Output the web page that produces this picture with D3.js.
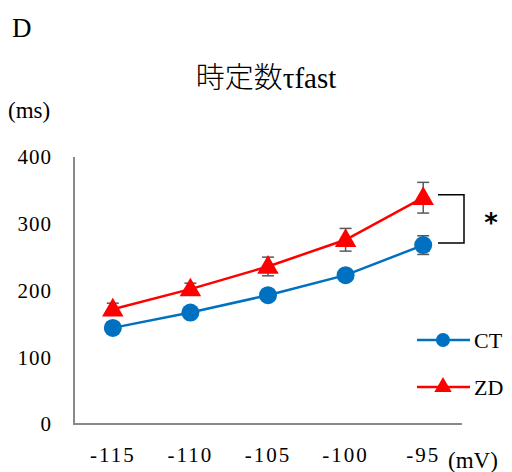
<!DOCTYPE html>
<html>
<head>
<meta charset="utf-8">
<script src="https://cdn.jsdelivr.net/npm/d3@7"></script>
<style>
  body { margin: 0; background: #fff; }
</style>
</head>
<body>
<div id="chart"></div>
<script>
const voltages = ['-115', '-110', '-105', '-100', '-95'];
const ctValues = [144, 167, 193, 223, 268];
const ctErrors = [6, 6, 6, 7, 14];
const zdValues = [172, 202, 236, 276, 339];
const zdErrors = [9, 9, 14, 17, 23];
const yTicks = [0, 100, 200, 300, 400];

const serif = "'Times New Roman', 'Liberation Serif', 'DejaVu Serif', serif";
const width = 512, height = 472;
const svg = d3.select('#chart').append('svg')
    .attr('width', width)
    .attr('height', height)
    .style('font-family', serif);

const x = d3.scalePoint()
    .domain(voltages)
    .range([74, 462])
    .padding(0.5);

const y = d3.scaleLinear()
    .domain([0, 400])
    .range([424, 157]);

// axes
svg.append('line')
    .attr('x1', 74).attr('x2', 74)
    .attr('y1', y(400)).attr('y2', y(0))
    .attr('stroke', '#898989').attr('stroke-width', 2);
svg.append('line')
    .attr('x1', 73).attr('x2', 462)
    .attr('y1', y(0)).attr('y2', y(0))
    .attr('stroke', '#898989').attr('stroke-width', 2);

svg.selectAll('.ytick')
    .data(yTicks)
    .enter()
    .append('text')
    .attr('x', 52)
    .attr('y', d => y(d))
    .attr('dy', '0.35em')
    .attr('text-anchor', 'end')
    .style('font-size', '21px')
    .style('letter-spacing', '1px')
    .text(d => d);

svg.selectAll('.xtick')
    .data(voltages)
    .enter()
    .append('text')
    .attr('x', d => x(d))
    .attr('y', 462)
    .attr('text-anchor', 'middle')
    .style('font-size', '21px')
    .style('letter-spacing', '2px')
    .text(d => d);

svg.append('text').attr('x', 448).attr('y', 468)
    .style('font-size', '23px').text('(mV)');
svg.append('text').attr('x', 8).attr('y', 118)
    .style('font-size', '23px').text('(ms)');
svg.append('text').attr('x', 12).attr('y', 37)
    .style('font-size', '27px').text('D');

const title = svg.append('text')
    .attr('x', 266).attr('y', 88)
    .attr('text-anchor', 'middle')
    .style('font-size', '29px');
title.append('tspan').style('font-family', '"Noto Sans CJK JP"').style('font-weight', '300').text('時定数');
title.append('tspan').text('τfast');

// series
const series = [
    { name: 'CT', values: ctValues, errors: ctErrors, color: '#0070C0', shape: 'circle' },
    { name: 'ZD', values: zdValues, errors: zdErrors, color: '#FF0000', shape: 'triangle' }
];

const line = d3.line()
    .x((d, i) => x(voltages[i]))
    .y(d => y(d));

const symbolFor = s => s.shape === 'circle'
    ? d3.symbol().type(d3.symbolCircle).size(Math.PI * 9 * 9)
    : d3.symbol().type(d3.symbolTriangle).size(200);

series.forEach(s => {
    // error bars
    const eb = svg.append('g').attr('stroke', '#595959').attr('stroke-width', 1.5);
    s.values.forEach((v, i) => {
        const cx = x(voltages[i]);
        const top = y(v + s.errors[i]), bot = y(v - s.errors[i]);
        eb.append('line').attr('x1', cx).attr('x2', cx).attr('y1', top).attr('y2', bot);
        eb.append('line').attr('x1', cx - 6).attr('x2', cx + 6).attr('y1', top).attr('y2', top);
        eb.append('line').attr('x1', cx - 6).attr('x2', cx + 6).attr('y1', bot).attr('y2', bot);
    });
});

series.forEach(s => {
    svg.append('path')
        .datum(s.values)
        .attr('d', line)
        .attr('fill', 'none')
        .attr('stroke', s.color)
        .attr('stroke-width', 2.5);

    svg.selectAll('.m-' + s.name)
        .data(s.values)
        .enter()
        .append('path')
        .attr('d', symbolFor(s))
        .attr('transform', (d, i) => `translate(${x(voltages[i])},${y(d) + (s.shape === 'triangle' ? 1 : 0)})`)
        .attr('fill', s.color);
});

// significance bracket
const last = voltages.length - 1;
const bTop = y(zdValues[last]) - 3, bBot = y(ctValues[last]) - 2;
svg.append('path')
    .attr('d', `M438,${bTop}H464V${bBot}H438`)
    .attr('fill', 'none')
    .attr('stroke', '#000')
    .attr('stroke-width', 1.5);
svg.append('text')
    .attr('x', 491).attr('y', 232)
    .attr('text-anchor', 'middle')
    .style('font-size', '26px')
    .style('font-family', '"DejaVu Sans", sans-serif')
    .style('font-weight', 'bold')
    .text('*');

// legend
const legendY = [340, 387];
series.forEach((s, i) => {
    const ly = legendY[i];
    svg.append('line')
        .attr('x1', 417).attr('x2', 470)
        .attr('y1', ly).attr('y2', ly)
        .attr('stroke', s.color).attr('stroke-width', 2.5);
    svg.append('path')
        .attr('d', s.shape === 'circle'
            ? d3.symbol().type(d3.symbolCircle).size(Math.PI * 7 * 7)()
            : d3.symbol().type(d3.symbolTriangle).size(130)())
        .attr('transform', `translate(443,${ly})`)
        .attr('fill', s.color);
    svg.append('text')
        .attr('x', 474).attr('y', ly)
        .attr('dy', '0.35em')
        .style('font-size', '22px')
        .text(s.name);
});
</script>
</body>
</html>
